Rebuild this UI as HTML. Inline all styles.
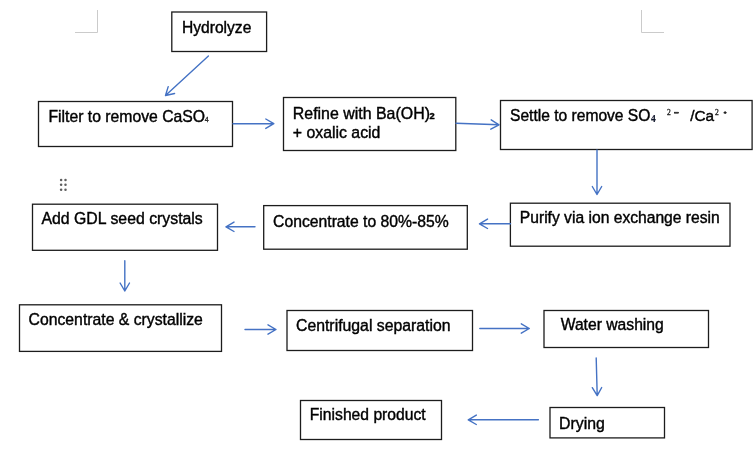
<!DOCTYPE html>
<html>
<head>
<meta charset="utf-8">
<title>Process flow</title>
<style>
html,body{margin:0;padding:0;background:#fff;}
body{width:756px;height:450px;overflow:hidden;}
svg{display:block;}
text{font-family:"Liberation Sans",sans-serif;font-size:15.7px;fill:#000;}
.b{fill:#fff;stroke:#1c1c1c;stroke-width:1.3;}
.a{fill:none;stroke:#4472c4;stroke-width:1.4;stroke-linecap:round;stroke-linejoin:round;}
.c{fill:none;stroke:#cbcbcb;stroke-width:1;}
.ss{font-family:"Liberation Serif",serif;fill:#222;stroke:#222;stroke-width:0.3;}
</style>
</head>
<body>
<svg width="756" height="450" viewBox="0 0 756 450">
<defs><filter id="sf" x="-2%" y="-20%" width="104%" height="140%"><feGaussianBlur stdDeviation="0.35"/></filter><filter id="af" filterUnits="userSpaceOnUse" x="0" y="0" width="756" height="450"><feGaussianBlur stdDeviation="0.3"/></filter></defs>
<rect width="756" height="450" fill="#fff"/>

<!-- page corner marks -->
<path class="c" d="M75 32.5H97.5V10"/>
<path class="c" d="M641.5 10V32.5H664"/>

<!-- drag handle dots -->
<g fill="#5e5e5e">
<circle cx="61.1" cy="179.9" r="1.25"/><circle cx="65.5" cy="179.9" r="1.25"/>
<circle cx="61.1" cy="184.8" r="1.25"/><circle cx="65.5" cy="184.8" r="1.25"/>
<circle cx="61.1" cy="189.7" r="1.25"/><circle cx="65.5" cy="189.7" r="1.25"/>
</g>

<!-- boxes -->
<rect class="b" x="171.8" y="12" width="94.8" height="39.5"/>
<rect class="b" x="38.5" y="101.5" width="194" height="45"/>
<rect class="b" x="283.5" y="97.5" width="172.3" height="53"/>
<rect class="b" x="500.5" y="100.5" width="251.6" height="49"/>
<rect class="b" x="32.5" y="204.2" width="185" height="46.1"/>
<rect class="b" x="263.7" y="205.6" width="203.6" height="43.6"/>
<rect class="b" x="510.4" y="203.2" width="219.6" height="43"/>
<rect class="b" x="19.5" y="304.8" width="202" height="46.6"/>
<rect class="b" x="287" y="310.5" width="185.5" height="40"/>
<rect class="b" x="544" y="310.5" width="164.5" height="37"/>
<rect class="b" x="550" y="407.5" width="114.5" height="30.4"/>
<rect class="b" x="300.5" y="400.5" width="141" height="39"/>

<!-- text -->
<g filter="url(#sf)" style="stroke:#000;stroke-width:0.4px">
<text x="182" y="32.6" style="font-size:15.6px">Hydrolyze</text>
<text x="48.4" y="122.3" style="font-size:15.75px">Filter to remove CaSO</text>
<text x="204.8" y="122.3" style="font-size:7.1px;fill:#2a2a2a;stroke:#2a2a2a;stroke-width:0.3px">4</text>
<text x="292.8" y="118.5" style="font-size:15.93px">Refine with Ba(OH)</text>
<text x="429.4" y="118.8" style="font-size:9.3px;font-weight:bold">2</text>
<text x="292.8" y="138.2" style="font-size:15.85px">+ oxalic acid</text>
<text x="510" y="120.8" style="font-size:15.6px">Settle to remove SO</text>
<text class="ss" x="651.1" y="121.8" style="font-size:9.4px;font-weight:bold;fill:#10152b;stroke:#10152b;stroke-width:0.2px">4</text>
<text class="ss" x="667" y="114.8" style="font-size:7.6px">2</text>
<rect x="674.2" y="112.1" width="4.6" height="1.2" fill="#3a3a3a"/>
<text x="690.2" y="120.8" style="font-size:15.4px">/Ca</text>
<text class="ss" x="715" y="114.8" style="font-size:7.6px">2</text>
<path d="M723.6 112.7h3M725.1 111.3v2.8" style="stroke:#222;stroke-width:1.3px;fill:none"/>
<text x="41.5" y="224" style="font-size:15.83px">Add GDL seed crystals</text>
<text x="273.1" y="226.8" style="font-size:15.73px">Concentrate to 80%-85%</text>
<text x="519.8" y="223" style="font-size:15.65px">Purify via ion exchange resin</text>
<text x="28.6" y="325.3" style="font-size:15.76px">Concentrate &amp; crystallize</text>
<text x="296" y="330.5" style="font-size:15.8px">Centrifugal separation</text>
<text x="560.7" y="330.4" style="font-size:15.68px">Water washing</text>
<text x="559.1" y="428.7" style="font-size:15.85px">Drying</text>
<text x="309.8" y="420.2" style="font-size:15.68px">Finished product</text>
</g>

<!-- arrows -->
<g filter="url(#af)">
<path class="a" d="M208.4 56.0L165.5 95.5M168.2 86.6L165.5 95.5L174.6 93.5"/>
<path class="a" d="M233.0 123.7L273.8 123.7M265.8 128.4L273.8 123.7L265.8 119.0"/>
<path class="a" d="M456.0 123.3L499.0 124.8M490.8 129.2L499.0 124.8L491.2 119.8"/>
<path class="a" d="M597.0 150.0L597.0 194.5M592.3 186.5L597.0 194.5L601.7 186.5"/>
<path class="a" d="M510.5 223.8L479.5 223.8M487.5 219.1L479.5 223.8L487.5 228.5"/>
<path class="a" d="M255.0 226.8L226.0 226.8M234.0 222.1L226.0 226.8L234.0 231.5"/>
<path class="a" d="M124.8 260.7L124.8 291.0M120.1 283.0L124.8 291.0L129.5 283.0"/>
<path class="a" d="M245.0 329.5L276.0 329.5M268.0 334.2L276.0 329.5L268.0 324.8"/>
<path class="a" d="M479.8 328.5L529.3 328.5M521.3 333.2L529.3 328.5L521.3 323.8"/>
<path class="a" d="M596.2 358.0L597.2 395.6M592.3 387.7L597.2 395.6L601.7 387.5"/>
<path class="a" d="M538.4 419.8L468.3 419.8M476.3 415.1L468.3 419.8L476.3 424.5"/>
</g>
</svg>
</body>
</html>
